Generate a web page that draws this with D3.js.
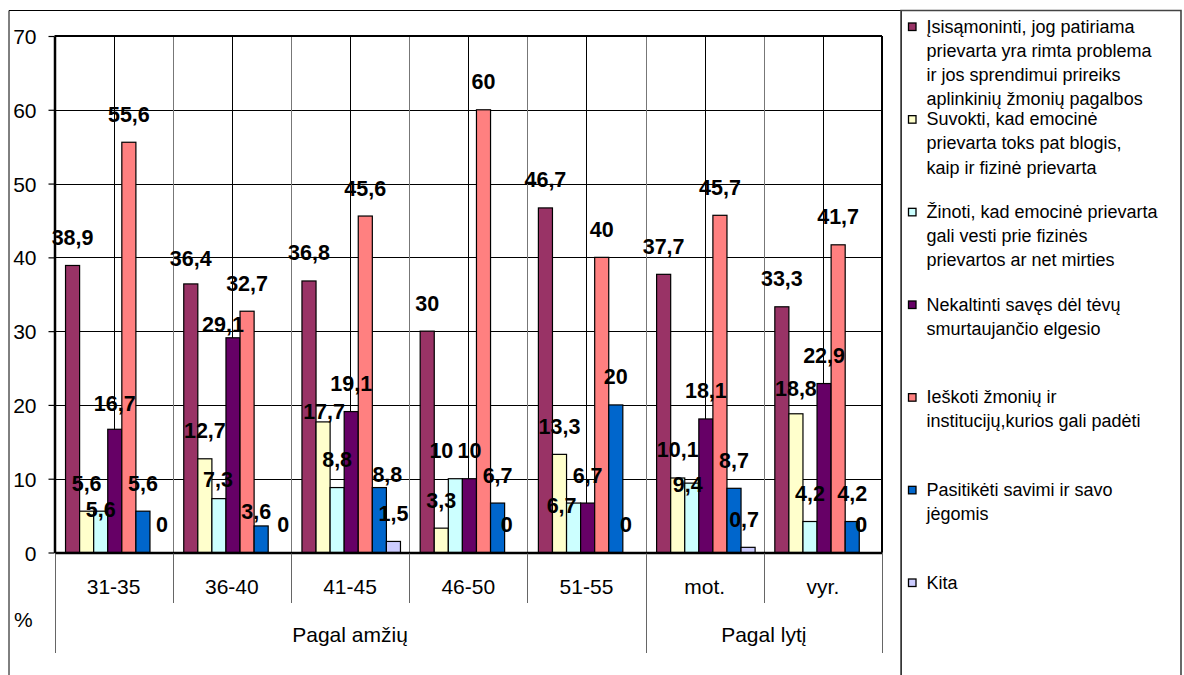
<!DOCTYPE html>
<html>
<head>
<meta charset="utf-8">
<script src="https://cdn.jsdelivr.net/npm/d3@7/dist/d3.min.js"></script>
<style>
  html, body { margin: 0; padding: 0; background: #fff; }
  svg { display: block; font-family: "Liberation Sans", Arial, sans-serif; }
</style>
</head>
<body>
<svg id="chart" width="1184" height="675"></svg>
<script>
// ---------------- DATA ----------------
const categories = ["31-35", "36-40", "41-45", "46-50", "51-55", "mot.", "vyr."];
const groupLabels = ["Pagal amžių", "Pagal lytį"];
const groupSizes = [5, 2];
const yTicks = [0, 10, 20, 30, 40, 50, 60, 70];
const yUnit = "%";

const seriesNames = [
  ["Įsisąmoninti, jog patiriama", "prievarta yra rimta problema", "ir jos sprendimui prireiks", "aplinkinių žmonių pagalbos"],
  ["Suvokti, kad emocinė", "prievarta toks pat blogis,", "kaip ir fizinė prievarta"],
  ["Žinoti, kad emocinė prievarta", "gali vesti prie fizinės", "prievartos ar net mirties"],
  ["Nekaltinti savęs dėl tėvų", "smurtaujančio elgesio"],
  ["Ieškoti žmonių ir", "institucijų,kurios gali padėti"],
  ["Pasitikėti savimi ir savo", "jėgomis"],
  ["Kita"]
];
const suvokti_isisamoninti = [38.9, 36.4, 36.8, 30, 46.7, 37.7, 33.3];
const suvokti_blogis       = [5.6, 12.7, 17.7, 3.3, 13.3, 10.1, 18.8];
const zinoti_mirties       = [5.6, 7.3, 8.8, 10, 6.7, 9.4, 4.2];
const nekaltinti           = [16.7, 29.1, 19.1, 10, 6.7, 18.1, 22.9];
const ieskoti              = [55.6, 32.7, 45.6, 60, 40, 45.7, 41.7];
const pasitiketi           = [5.6, 3.6, 8.8, 6.7, 20, 8.7, 4.2];
const kita                 = [0, 0, 1.5, 0, 0, 0.7, 0];
const seriesValues = [suvokti_isisamoninti, suvokti_blogis, zinoti_mirties, nekaltinti, ieskoti, pasitiketi, kita];

// ---------------- STYLE / LAYOUT ----------------
const colors = ["#993366", "#FFFFCC", "#CCFFFF", "#660066", "#FF8080", "#0066CC", "#CCCCFF"];
const FONT = '"Liberation Sans", Arial, sans-serif';
const plot = { left: 54.5, right: 882, top: 36, bottom: 552.5 };
// manual nudges of some data labels (dx, dy), as placed in the original
const labelNudge = {
  "0-2": [0, 26], "0-6": [5, 0],
  "1-0": [0, 3], "1-2": [-1, 9], "1-3": [-10, 15], "1-5": [-5, 14], "1-6": [8, 0],
  "2-1": [1, 18], "2-5": [8, 15],
  "3-2": [-14, 0], "3-6": [-5, 0],
  "4-2": [-12, 30], "4-6": [-4, 0],
  "5-2": [-4, 29], "5-6": [-4, 0],
  "6-6": [-5, 0], "0-3": [0, 2], "6-1": [0, 3]
};

const svg = d3.select("#chart");
svg.append("rect").attr("width", 1184).attr("height", 675).attr("fill", "#fff");

// Frames
svg.append("path").attr("d", "M9,676 V10.5 H901.5 V676").attr("fill", "none").attr("stroke", "#000").attr("stroke-width", 1);
svg.append("path").attr("d", "M901,676 V10.5 H1181 V676").attr("fill", "none").attr("stroke", "#444").attr("stroke-width", 1.6);

// Scales
const x = d3.scaleBand().domain(categories).range([plot.left, plot.right]).padding(0);
const xs = d3.scaleBand().domain(d3.range(seriesValues.length)).range([0, x.bandwidth()])
  .paddingInner(0).paddingOuter(0.7).align(0.56);
const y = d3.scaleLinear().domain([0, 70]).range([plot.bottom, plot.top]);

// Gridlines
const grid = svg.append("g");
grid.selectAll("line.h").data(yTicks.filter(t => t > 0 && t < 70)).join("line")
  .attr("x1", plot.left).attr("x2", plot.right)
  .attr("y1", d => Math.round(y(d)) + 0.5).attr("y2", d => Math.round(y(d)) + 0.5)
  .attr("stroke", "#000").attr("stroke-width", 1);
// vertical lines at category centres (black) and boundaries (grey)
grid.selectAll("line.vc").data(categories).join("line")
  .attr("x1", d => Math.round(x(d) + x.bandwidth() / 2) + 0.5)
  .attr("x2", d => Math.round(x(d) + x.bandwidth() / 2) + 0.5)
  .attr("y1", plot.top).attr("y2", plot.bottom)
  .attr("stroke", "#000").attr("stroke-width", 1);
grid.selectAll("line.vb").data(categories.slice(1)).join("line")
  .attr("x1", d => Math.round(x(d)) + 0.5).attr("x2", d => Math.round(x(d)) + 0.5)
  .attr("y1", plot.top).attr("y2", plot.bottom)
  .attr("stroke", "#777").attr("stroke-width", 1);

// Bars
const cells = [];
categories.forEach((c, ci) => seriesValues.forEach((vals, si) => cells.push({ c, ci, si, v: vals[ci] })));
svg.append("g").selectAll("rect").data(cells).join("rect")
  .attr("x", d => x(d.c) + xs(d.si))
  .attr("y", d => y(d.v))
  .attr("width", xs.bandwidth())
  .attr("height", d => y(0) - y(d.v))
  .attr("fill", d => colors[d.si])
  .attr("stroke", "#000").attr("stroke-width", 1.2)
  .attr("display", d => d.v > 0 ? null : "none");

// Plot border top & right
svg.append("line").attr("x1", plot.left).attr("x2", plot.right).attr("y1", plot.top).attr("y2", plot.top)
  .attr("stroke", "#000").attr("stroke-width", 2);
svg.append("line").attr("x1", plot.right).attr("x2", plot.right).attr("y1", plot.top).attr("y2", plot.bottom)
  .attr("stroke", "#000").attr("stroke-width", 2);

// Y axis
const yAxis = svg.append("g").attr("transform", `translate(${plot.left},0)`)
  .call(d3.axisLeft(y).tickValues(yTicks).tickSize(6).tickSizeOuter(0).tickPadding(12).tickFormat(d3.format("d")));
yAxis.select(".domain").attr("stroke", "#000").attr("stroke-width", 2.5);
yAxis.selectAll(".tick line").attr("stroke", "#000").attr("stroke-width", 1.2);
yAxis.selectAll(".tick text").attr("font-family", FONT).attr("font-size", 21).attr("fill", "#000").attr("dy", "0.36em");

// X axis (category labels)
const xAxis = svg.append("g").attr("transform", `translate(0,${plot.bottom})`)
  .call(d3.axisBottom(x).tickSize(0).tickPadding(26.5));
xAxis.select(".domain").attr("stroke", "#000").attr("stroke-width", 2.5);
xAxis.selectAll(".tick text").attr("font-family", FONT).attr("font-size", 21).attr("fill", "#000");

// category separators below axis
const groupEdges = [0];
groupSizes.forEach(s => groupEdges.push(groupEdges[groupEdges.length - 1] + s));
const edgeX = i => i < categories.length ? x(categories[i]) : plot.right;
svg.append("g").selectAll("line").data(d3.range(categories.length + 1)).join("line")
  .attr("x1", i => Math.round(edgeX(i)) + 0.5).attr("x2", i => Math.round(edgeX(i)) + 0.5)
  .attr("y1", plot.bottom + 1)
  .attr("y2", i => groupEdges.includes(i) ? 653 : 603)
  .attr("stroke", "#666").attr("stroke-width", 1);

// group labels
svg.append("g").selectAll("text").data(groupLabels).join("text")
  .attr("x", (d, gi) => (edgeX(groupEdges[gi]) + edgeX(groupEdges[gi + 1])) / 2)
  .attr("y", 642)
  .attr("text-anchor", "middle")
  .attr("font-family", FONT).attr("font-size", 21).attr("fill", "#000")
  .text(d => d);

svg.append("text").attr("x", 14).attr("y", 626.5)
  .attr("font-family", FONT).attr("font-size", 21).attr("fill", "#000").text(yUnit);

// Data labels
svg.append("g").selectAll("text").data(cells).join("text")
  .attr("x", d => x(d.c) + xs(d.si) + xs.bandwidth() / 2 + (labelNudge[`${d.ci}-${d.si}`] || [0, 0])[0])
  .attr("y", d => y(d.v) - 20.5 + (labelNudge[`${d.ci}-${d.si}`] || [0, 0])[1])
  .attr("text-anchor", "middle")
  .attr("font-family", FONT).attr("font-size", 21.5).attr("font-weight", "bold").attr("fill", "#000")
  .text(d => String(d.v).replace(".", ","));

// Legend
const legY = d3.scaleLinear().domain([0, seriesNames.length - 1]).range([26.5, 582.5]);
const leg = svg.append("g").selectAll("g").data(seriesNames).join("g")
  .attr("transform", (d, i) => `translate(0,${legY(i)})`);
leg.append("rect").attr("x", 908.5).attr("y", -3.5).attr("width", 7.5).attr("height", 7.5)
  .attr("fill", (d, i) => colors[i]).attr("stroke", "#000").attr("stroke-width", 1.3);
leg.append("text").attr("font-family", FONT).attr("font-size", 18).attr("fill", "#000")
  .selectAll("tspan").data(d => d).join("tspan")
  .attr("x", 926.5).attr("y", (d, j) => 6 + j * 24.3)
  .text(d => d);
</script>
</body>
</html>
